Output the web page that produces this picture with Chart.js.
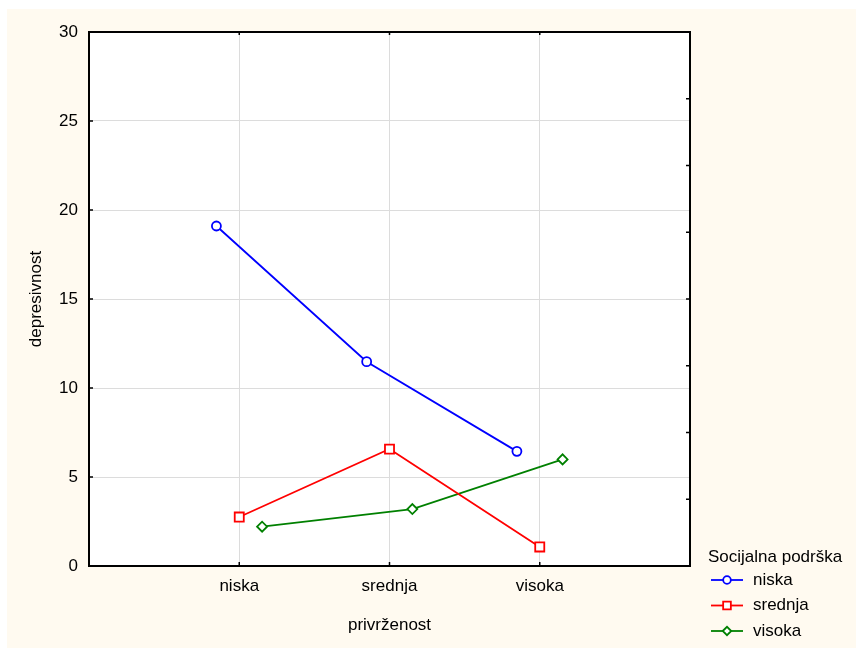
<!DOCTYPE html>
<html><head><meta charset="utf-8">
<script src="https://cdn.jsdelivr.net/npm/chart.js@4.4.1/dist/chart.umd.min.js"></script>
<style>html,body{margin:0;padding:0;background:#fff;} canvas{display:block;}</style>
</head><body><canvas id="c" width="856" height="648"></canvas>
<script>
// ---- data ----
const categories = ['niska', 'srednja', 'visoka'];
const legendTitle = 'Socijalna podrška';
const seriesNames = ['niska', 'srednja', 'visoka'];
const seriesNiska = [19.10, 11.48, 6.44];
const seriesSrednja = [2.75, 6.57, 1.07];
const seriesVisoka = [2.21, 3.20, 5.99];
const yTickValues = [0, 5, 10, 15, 20, 25, 30];
const xTitle = 'privrženost';
const yTitle = 'depresivnost';

// ---- style ----
const FONT = 'Arial, "Liberation Sans", sans-serif';
const FS = 17;
const CREAM = '#FFFAF0';
const GRID = '#dcdcdc';
const DODGE = 0.152;
Chart.defaults.font.family = FONT;
Chart.defaults.font.size = FS;
Chart.defaults.color = '#000';

const seriesStyles = [
  {color: '#0000FF', style: 'circle', r: 4.5, off: -DODGE},
  {color: '#FF0000', style: 'rect', r: 6.4, off: 0},
  {color: '#008000', style: 'rectRot', r: 5, off: DODGE}
];
const seriesValues = [seriesNiska, seriesSrednja, seriesVisoka];

const datasets = seriesValues.map((vals, s) => ({
  label: seriesNames[s],
  data: vals.map((v, i) => ({x: i + 1 + seriesStyles[s].off, y: v})),
  borderColor: seriesStyles[s].color,
  backgroundColor: '#fff',
  borderWidth: 1.8,
  pointStyle: seriesStyles[s].style,
  pointRadius: seriesStyles[s].r,
  pointBorderWidth: 1.8,
  pointBackgroundColor: '#fff',
  pointBorderColor: seriesStyles[s].color,
  tension: 0,
  fill: false
}));

const framePlugin = {
  id: 'frame',
  beforeDraw(chart) {
    const {ctx, chartArea: a} = chart;
    ctx.save();
    ctx.fillStyle = '#fff';
    ctx.fillRect(0, 0, chart.width, chart.height);
    ctx.fillStyle = CREAM;
    ctx.fillRect(7, 9, chart.width - 7, chart.height - 9);
    ctx.fillStyle = '#fff';
    ctx.fillRect(a.left, a.top, a.right - a.left, a.bottom - a.top);
    ctx.restore();
  },
  afterDraw(chart) {
    const {ctx, chartArea: a} = chart;
    const xs = chart.scales.x, ys = chart.scales.y;
    ctx.save();
    ctx.strokeStyle = '#000';
    ctx.lineWidth = 2;
    ctx.strokeRect(a.left, a.top, a.right - a.left, a.bottom - a.top);
    ctx.lineWidth = 1.5;
    ctx.beginPath();
    yTickValues.forEach(v => {
      const py = ys.getPixelForValue(v);
      ctx.moveTo(a.left, py); ctx.lineTo(a.left + 4, py);
    });
    for (let k = 1; k < 8; k++) {
      const py = ys.getPixelForValue(ys.max * k / 8);
      ctx.moveTo(a.right - 4, py); ctx.lineTo(a.right, py);
    }
    categories.forEach((c, i) => {
      const px = xs.getPixelForValue(i + 1);
      ctx.moveTo(px, a.bottom); ctx.lineTo(px, a.bottom - 4);
      ctx.moveTo(px, a.top); ctx.lineTo(px, a.top + 3);
    });
    ctx.stroke();

    // legend
    ctx.fillStyle = '#000';
    ctx.font = FS + 'px ' + FONT;
    ctx.textBaseline = 'middle';
    ctx.textAlign = 'left';
    ctx.fillText(legendTitle, 708, 557);
    chart.data.datasets.forEach((ds, i) => {
      const y = 580 + i * 25.5;
      ctx.strokeStyle = ds.borderColor;
      ctx.lineWidth = 1.8;
      ctx.beginPath(); ctx.moveTo(711, y); ctx.lineTo(743, y); ctx.stroke();
      ctx.fillStyle = '#fff';
      Chart.helpers.drawPoint(ctx, {pointStyle: ds.pointStyle, radius: ds.pointRadius * 0.85, rotation: 0, borderWidth: 1.8}, 727, y);
      ctx.fillStyle = '#000';
      ctx.fillText(ds.label, 753, y);
    });
    ctx.restore();
  }
};

new Chart(document.getElementById('c'), {
  type: 'line',
  data: {datasets},
  options: {
    responsive: false,
    devicePixelRatio: 1,
    animation: false,
    layout: {padding: {top: 32, right: 166, left: 0, bottom: 0}},
    plugins: {legend: {display: false}, tooltip: {enabled: false}},
    scales: {
      x: {
        type: 'linear', min: 0, max: 4, position: 'bottom',
        afterBuildTicks: s => { s.ticks = categories.map((c, i) => ({value: i + 1})); },
        afterFit: s => { s.height = 82; },
        ticks: {callback: v => categories[v - 1], padding: 10, font: {size: FS}, color: '#000', maxRotation: 0},
        grid: {color: GRID, drawTicks: false, lineWidth: 1},
        border: {display: false},
        title: {display: true, text: xTitle, font: {size: FS}, color: '#000', padding: {top: 0, bottom: 12.8}}
      },
      y: {
        type: 'linear', min: 0, max: 30,
        afterBuildTicks: s => { s.ticks = yTickValues.map(v => ({value: v})); },
        afterFit: s => { s.width = 89; },
        ticks: {padding: 11, font: {size: FS}, color: '#000'},
        grid: {color: GRID, drawTicks: false, lineWidth: 1},
        border: {display: false},
        title: {display: true, text: yTitle, font: {size: FS}, color: '#000', padding: {top: 25.8, bottom: 0}}
      }
    }
  },
  plugins: [framePlugin]
});
</script>
</body></html>
